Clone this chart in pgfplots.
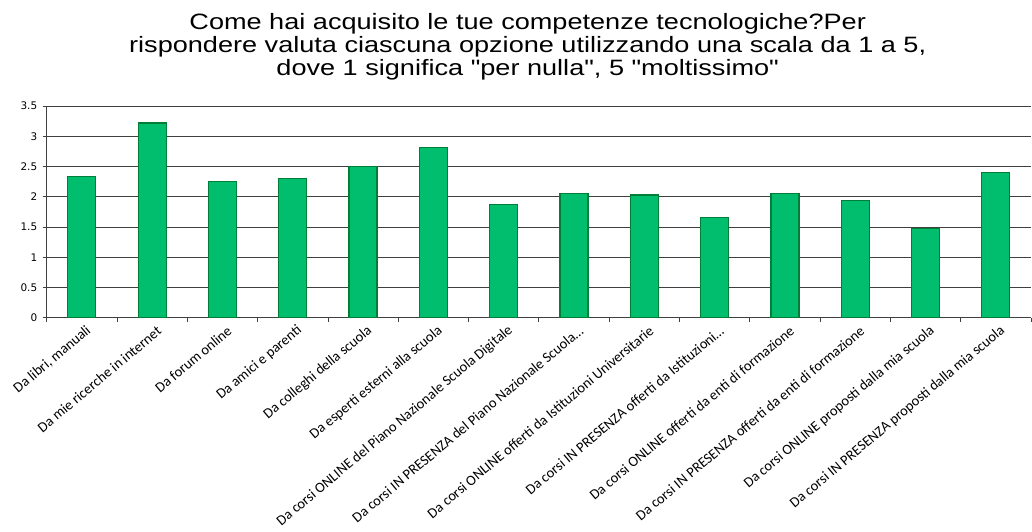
\documentclass[border=0pt]{standalone}
\usepackage{pgfplots}
\pgfplotsset{compat=1.18}
\usepackage{fontspec}
\setmainfont{Carlito}
\newfontfamily\titlefont[FakeStretch=1.22]{Liberation Sans}
\newfontfamily\tickfont{DejaVu Sans}

\definecolor{barfill}{RGB}{0,190,110}
\definecolor{baredge}{RGB}{0,125,55}

\begin{document}
\begin{tikzpicture}
\useasboundingbox (-46.7bp,-214.3bp) rectangle (985.3bp,317.7bp);
\begin{axis}[
  at={(0,0)}, anchor=south west,
  scale only axis,
  width=984.3bp, height=211.7bp,
  xmin=-0.5, xmax=13.5,
  ymin=0, ymax=3.5,
  ytick={0,0.5,1,1.5,2,2.5,3,3.5},
  xtick={0,1,2,3,4,5,6,7,8,9,10,11,12,13},
  xticklabels={
    {Da libri, manuali},
    {Da mie ricerche in internet},
    {Da forum online},
    {Da amici e parenti},
    {Da colleghi della scuola},
    {Da esperti esterni alla scuola},
    {Da corsi ONLINE del Piano Nazionale Scuola Digitale},
    {Da corsi IN PRESENZA del Piano Nazionale Scuola\ldots},
    {Da corsi ONLINE offerti da Istituzioni Universitarie},
    {Da corsi IN PRESENZA offerti da Istituzioni\ldots},
    {Da corsi ONLINE offerti da enti di formazione},
    {Da corsi IN PRESENZA offerti da enti di formazione},
    {Da corsi ONLINE proposti dalla mia scuola},
    {Da corsi IN PRESENZA proposti dalla mia scuola}},
  minor xtick={-0.5,0.5,1.5,2.5,3.5,4.5,5.5,6.5,7.5,8.5,9.5,10.5,11.5,12.5,13.5},
  major x tick style={draw=none},
  minor tick length=4bp,
  major tick length=4bp,
  tick align=outside,
  xtick pos=left, ytick pos=left,
  axis lines*=left,
  axis line style={black!75, line width=0.8bp},
  ymajorgrids,
  grid style={black!75, line width=0.8bp},
  tick style={black!75, line width=0.8bp},
  x tick label style={rotate=40, anchor=east, font=\fontsize{14.5}{16}\selectfont,
    inner sep=0pt, yshift=-10bp, xshift=1bp},
  y tick label style={font=\tickfont\fontsize{10.5}{12}\selectfont, xshift=-2bp},
  /pgf/number format/assume math mode=true,
  ybar, bar width=28bp,
]
\addplot[fill=barfill, draw=baredge, line width=1.2bp] coordinates {
  (0,2.34) (1,3.22) (2,2.25) (3,2.30) (4,2.50) (5,2.82) (6,1.87)
  (7,2.06) (8,2.03) (9,1.66) (10,2.05) (11,1.94) (12,1.47) (13,2.40)
};
\end{axis}
\node[font=\titlefont\fontsize{22.3}{23.5}\selectfont, align=center, anchor=base]
  at (481bp,241.7bp) {Come hai acquisito le tue competenze tecnologiche?Per\\
  rispondere valuta ciascuna opzione utilizzando una scala da 1 a 5,\\
  dove 1 significa "per nulla", 5 "moltissimo"};
\end{tikzpicture}
\end{document}
